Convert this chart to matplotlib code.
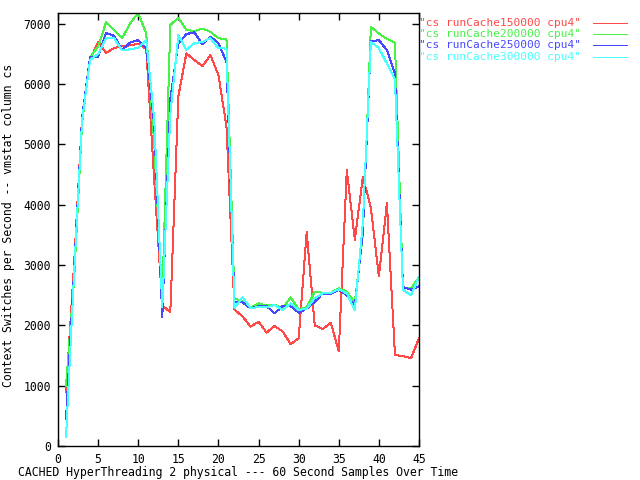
import matplotlib
matplotlib.use("Agg")
import matplotlib.pyplot as plt
from matplotlib.lines import Line2D

x = list(range(1, 46))
labels = ['"cs runCache150000 cpu4"', '"cs runCache200000 cpu4"',
          '"cs runCache250000 cpu4"', '"cs runCache300000 cpu4"']
colors = ['#ff4848', '#48f048', '#4848ff', '#48ffff']

red = [900, 3000, 5450, 6400, 6700, 6520, 6600, 6630, 6645, 6670,
       6580, 4400, 2330, 2220, 5800, 6510, 6400, 6300, 6480, 6150,
       5300, 2260, 2150, 1980, 2060, 1880, 1990, 1900, 1690, 1785,
       3550, 2000, 1940, 2045, 1570, 4575, 3420, 4460, 3950, 2810,
       4025, 1510, 1490, 1455, 1785]
green = [1000, 2750, 5350, 6450, 6620, 7030, 6900, 6760, 7010, 7180,
         6840, 5000, 2450, 6980, 7100, 6900, 6880, 6920, 6870, 6760,
         6750, 2450, 2400, 2290, 2365, 2330, 2340, 2280, 2465, 2270,
         2300, 2560, 2540, 2540, 2615, 2560, 2380, 3500, 6950, 6840,
         6750, 6690, 2615, 2615, 2800]
blue = [450, 2900, 5450, 6450, 6450, 6850, 6800, 6570, 6690, 6730,
        6600, 5300, 2140, 5750, 6680, 6830, 6860, 6660, 6790, 6680,
        6370, 2390, 2380, 2280, 2320, 2320, 2200, 2320, 2320, 2210,
        2280, 2390, 2530, 2520, 2590, 2500, 2320, 3550, 6710, 6730,
        6565, 6180, 2640, 2590, 2650]
cyan = [150, 2850, 5400, 6400, 6500, 6760, 6760, 6560, 6580, 6600,
        6730, 5400, 2300, 5500, 6815, 6570, 6680, 6700, 6760, 6595,
        6590, 2290, 2465, 2290, 2300, 2300, 2340, 2255, 2365, 2255,
        2280, 2450, 2530, 2540, 2600, 2530, 2255, 3700, 6700, 6600,
        6340, 6080, 2590, 2500, 2800]
series = [red, green, blue, cyan]

xticks = list(range(0, 46, 5))
yticks = list(range(0, 7001, 1000))

mono = 'DejaVu Sans Mono'
fs = 8.3
lw = 0.72

fig = plt.figure(figsize=(6.4, 4.8), dpi=100)
ax = fig.add_axes([58/640, 1-446/480, (419-58)/640, (446-13)/480])

for ys, c, lab in zip(series, colors, labels):
    ax.plot(x, ys, color=c, lw=lw, label=lab, antialiased=False)

ax.set_xlim(0, 45)
ax.set_ylim(0, 7180)
ax.set_xticks(xticks)
ax.set_yticks(yticks)
ax.tick_params(direction='in', length=5, width=1, top=True, right=True,
               labelsize=fs, pad=5, colors='black')
for lab in ax.get_xticklabels() + ax.get_yticklabels():
    lab.set_family(mono)
for sp in ax.spines.values():
    sp.set_linewidth(1)
    sp.set_color('black')

ax.set_xlabel('CACHED HyperThreading 2 physical --- 60 Second Samples Over Time',
              family=mono, fontsize=fs)
ax.xaxis.set_label_coords(0.5, -0.047)
ax.set_ylabel('Context Switches per Second -- vmstat column cs',
              family=mono, fontsize=fs)
ax.yaxis.set_label_coords(-0.118, 0.51)

# key, placed as gnuplot does: coloured title then sample line
row_y = [22.8, 34.1, 45.4, 56.7]
for lab, c, yp in zip(labels, colors, row_y):
    yf = 1 - yp/480
    fig.text(419/640, yf, lab, color=c, family=mono, fontsize=8.0,
             ha='left', va='center')
    fig.add_artist(Line2D([593/640, 627/640], [yf, yf], color=c, lw=lw,
                          antialiased=False, transform=fig.transFigure))

fig.savefig('out.png', dpi=100)
